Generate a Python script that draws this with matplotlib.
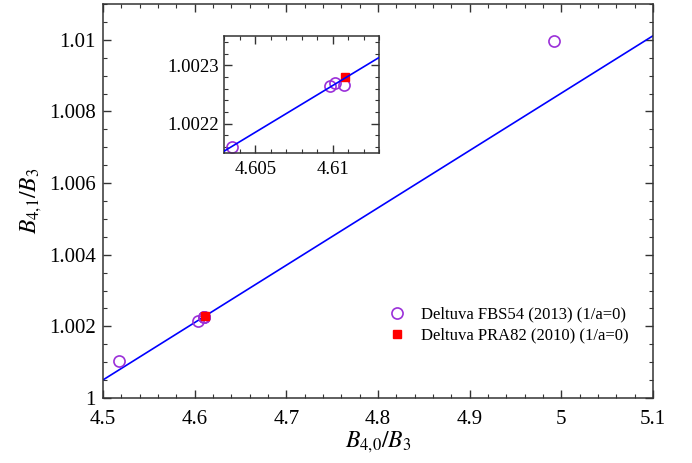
import matplotlib
matplotlib.use('Agg')
import matplotlib.pyplot as plt
from matplotlib.ticker import MultipleLocator

plt.rcParams['font.family'] = ['Liberation Serif', 'DejaVu Serif']
plt.rcParams['mathtext.fontset'] = 'stix'

# Deltuva FBS54 (2013), 1/a = 0
fbs_x = [4.5172, 4.6035, 4.6098, 4.61015, 4.6107, 4.9920]
fbs_y = [1.00104, 1.00216, 1.002264, 1.00227, 1.002267, 1.00998]
# Deltuva PRA82 (2010), 1/a = 0
pra_x = [4.6108]
pra_y = [1.00228]
# linear fit
fit_x = [4.5, 5.1]
fit_y = [1.000504, 1.010112]

purple = '#9b30d9'
blue = '#0000ff'


def style_axes(ax, size, pad):
    ax.tick_params(which='both', direction='in', top=True, right=True,
                   labelsize=size, color='#333333')
    ax.tick_params(which='major', length=6, width=1)
    ax.tick_params(which='minor', length=3, width=0.8)
    ax.tick_params(axis='x', which='major', pad=pad)
    for s in ax.spines.values():
        s.set_color('#333333')
        s.set_linewidth(1.1)


fig = plt.figure(figsize=(6.92, 4.63), dpi=100)
ax = fig.add_axes([0.1488, 0.1404, 0.7948, 0.851])

ax.plot(fit_x, fit_y, color=blue, lw=1.2, zorder=2)
ax.plot(fbs_x, fbs_y, 'o', mfc='none', mec=purple, mew=1.2, ms=8,
        label='Deltuva FBS54 (2013) (1/a=0)', zorder=3)
ax.plot(pra_x, pra_y, 's', color='red', ms=6,
        label='Deltuva PRA82 (2010) (1/a=0)', zorder=4)

ax.set_xlim(4.5, 5.1)
ax.set_ylim(1.0, 1.011)
ax.xaxis.set_minor_locator(MultipleLocator(0.02))
ax.yaxis.set_minor_locator(MultipleLocator(0.0005))
ax.set_xticks([4.5, 4.6, 4.7, 4.8, 4.9, 5.0, 5.1])
ax.set_xticklabels(['4.5', '4.6', '4.7', '4.8', '4.9', '5', '5.1'])
ax.set_yticks([1.0, 1.002, 1.004, 1.006, 1.008, 1.01])
ax.set_yticklabels(['1', '1.002', '1.004', '1.006', '1.008', '1.01'])
style_axes(ax, 15, 9)
ax.tick_params(axis='y', which='major', pad=5)
ax.set_xlabel(r'$B_{4{,}0}/B_3$', fontsize=17, labelpad=0)
ax.set_ylabel(r'$B_{4{,}1}/B_3$', fontsize=17, labelpad=4)

ax.legend(loc='lower right', bbox_to_anchor=(0.97, 0.117), frameon=False,
          fontsize=12, handlelength=1.0, handletextpad=0.9,
          borderpad=0, labelspacing=0.3)

ins = fig.add_axes([0.3241, 0.6695, 0.224, 0.2527])
ins.plot(fit_x, fit_y, color=blue, lw=1.2, zorder=4)
ins.plot(fbs_x, fbs_y, 'o', mfc='none', mec=purple, mew=1.2, ms=8, zorder=2)
ins.plot(pra_x, pra_y, 's', color='red', ms=6, zorder=3)
ins.set_xlim(4.603, 4.613)
ins.set_ylim(1.00215, 1.00235)
ins.set_xticks([4.605, 4.61])
ins.set_xticklabels(['4.605', '4.61'])
ins.xaxis.set_minor_locator(MultipleLocator(0.001))
ins.set_yticks([1.0022, 1.0023])
ins.set_yticklabels(['1.0022', '1.0023'])
ins.yaxis.set_minor_locator(MultipleLocator(0.00002))
style_axes(ins, 13.5, 6)

fig.savefig('out.png', dpi=100)
